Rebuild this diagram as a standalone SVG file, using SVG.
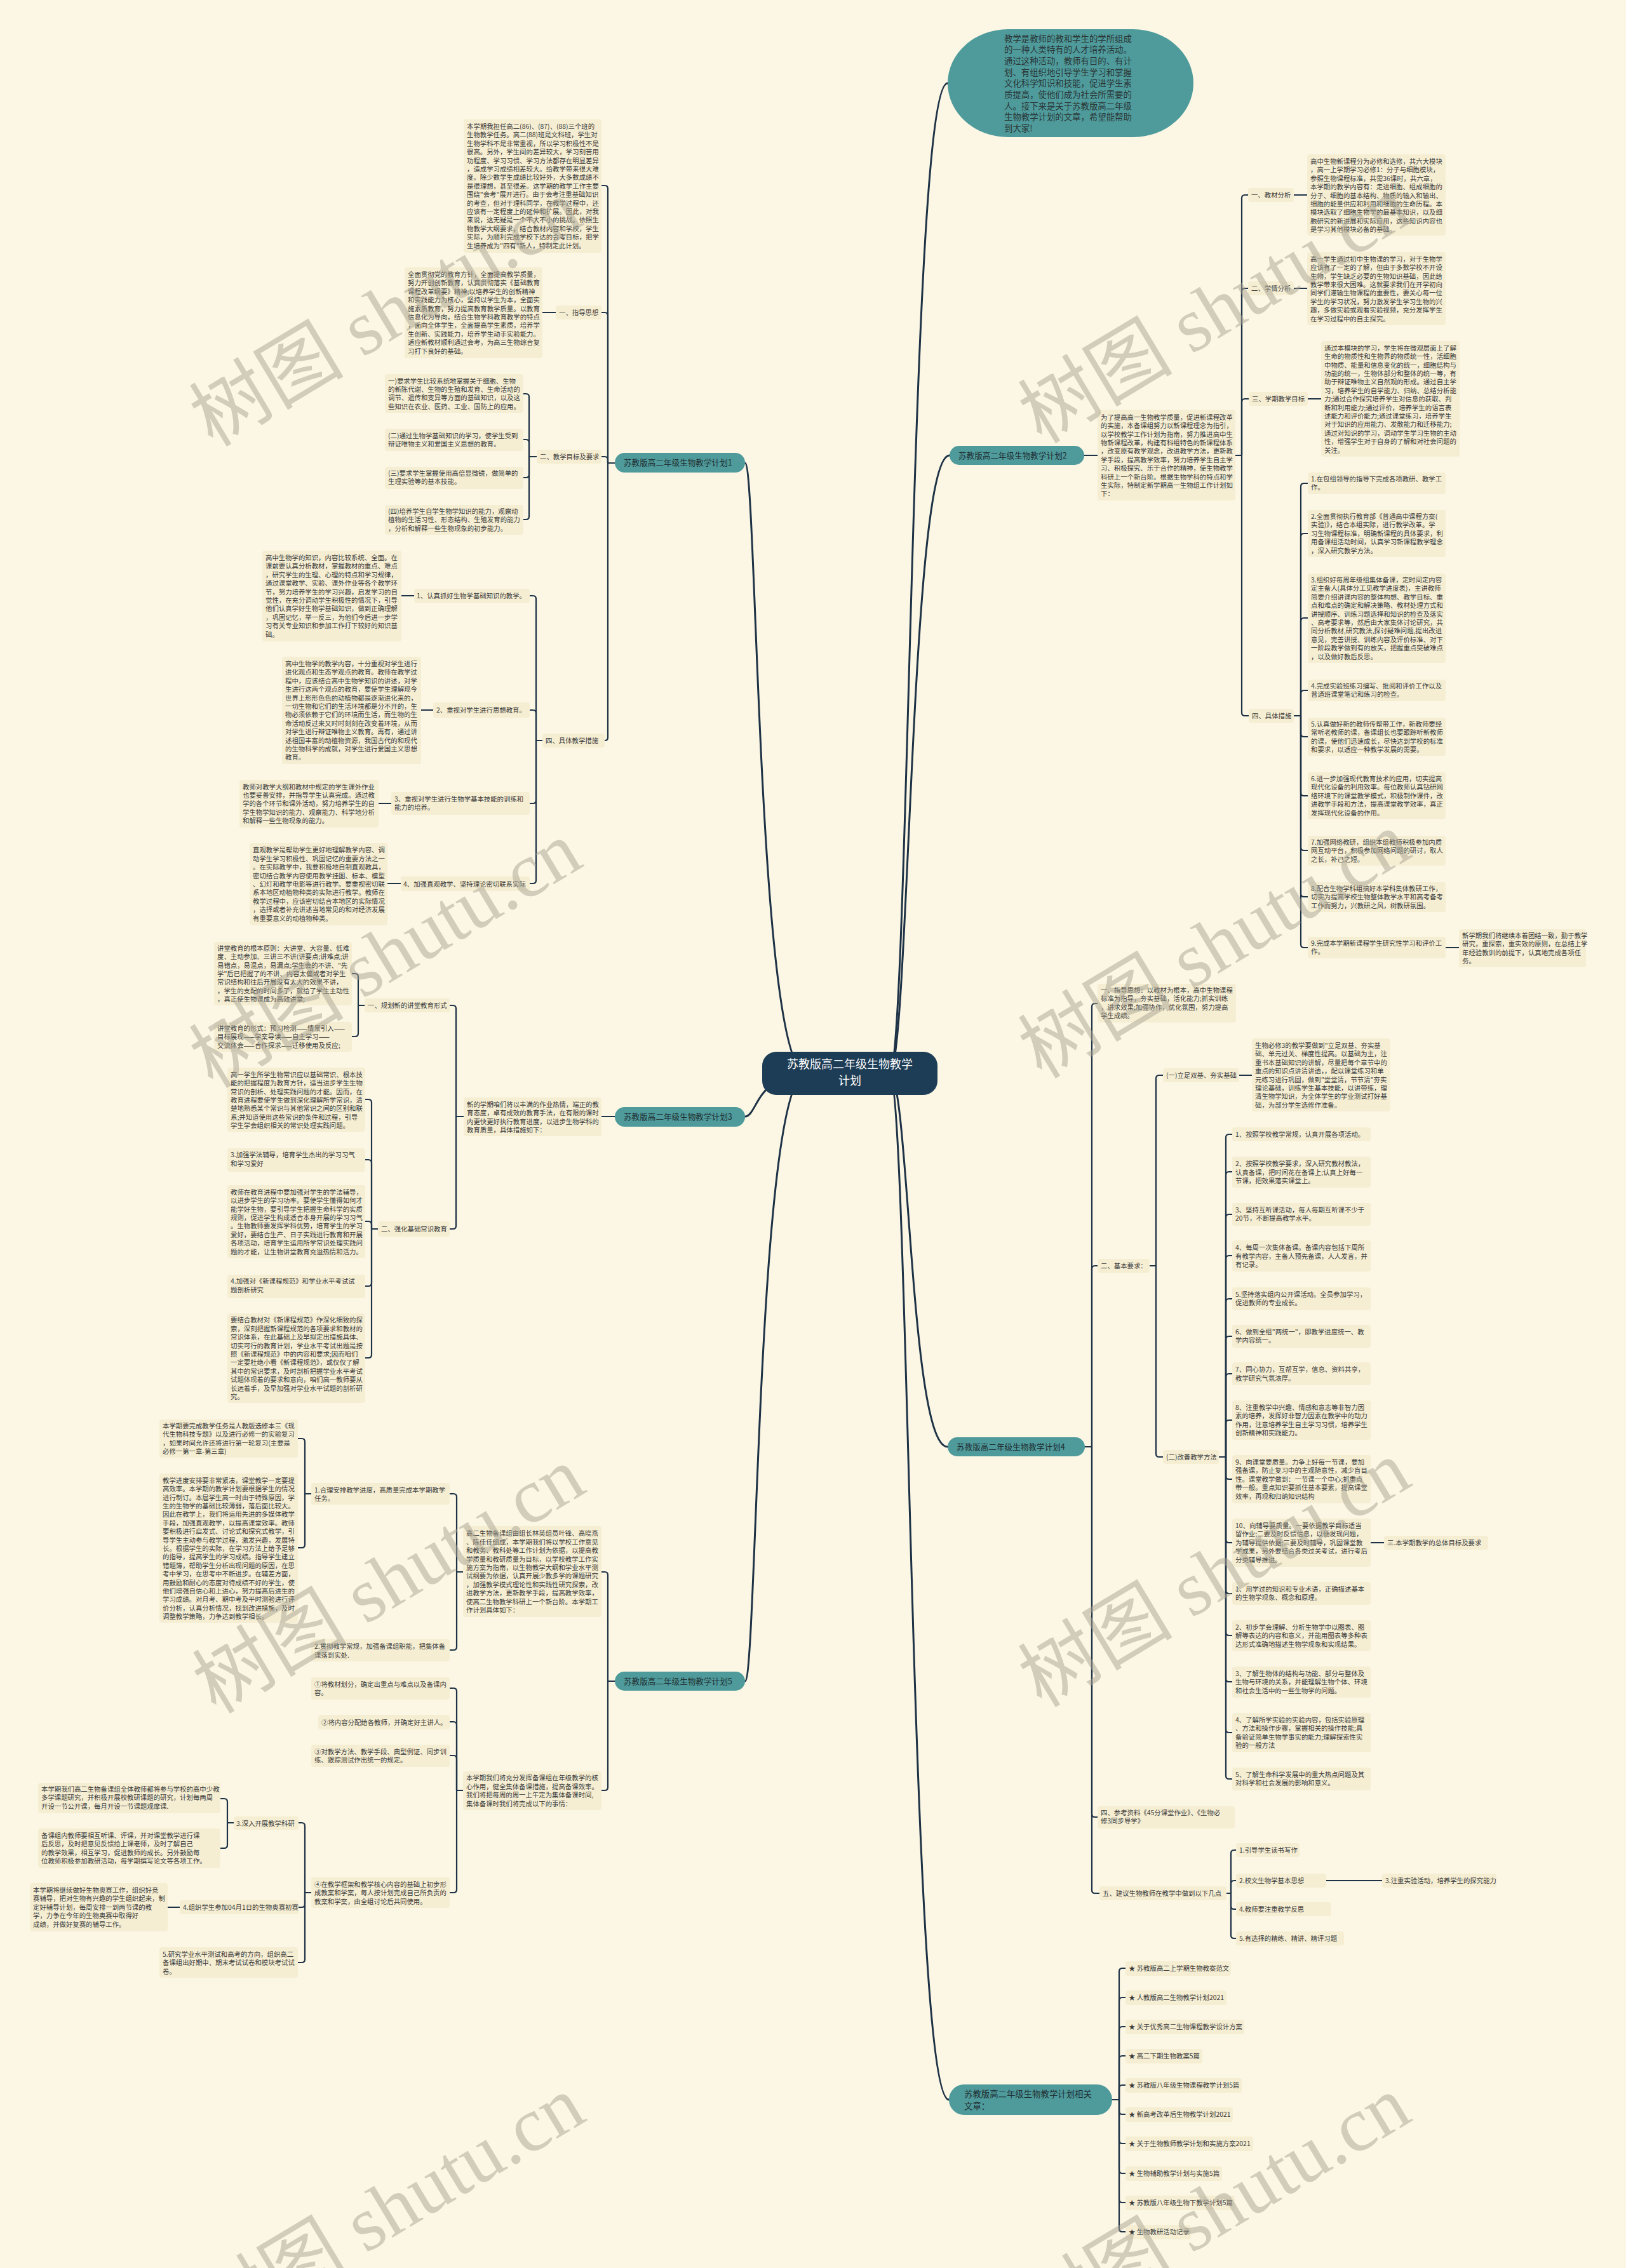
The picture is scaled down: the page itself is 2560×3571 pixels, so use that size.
<svg xmlns="http://www.w3.org/2000/svg" width="2560" height="3571" viewBox="0 0 2560 3571">
<style>
.bg{fill:#fcf7e4}
.b{fill:#f5eed3}
.t{font-family:"Noto Sans CJK SC","Noto Sans",sans-serif;font-size:10.4px;fill:#3a3a3a}
.p{fill:#4f9b9c}
.pt{font-family:"Noto Sans CJK SC","Noto Sans",sans-serif;font-size:12.6px;fill:#1f2f33}
.e{fill:none;stroke:#1e3246;stroke-width:2.2;stroke-linecap:round;stroke-linejoin:round}
.m{fill:none;stroke:#1e3246;stroke-width:3;stroke-linecap:round}
.wm{font-family:"Liberation Serif","Noto Sans CJK SC",serif;font-size:122px;fill:#aaa594;opacity:.5}
</style>
<rect class="bg" x="0" y="0" width="2560" height="3571"/>

<g id="connectors">
<path class="m" d="M1400 1690 C1432 1690 1432 131 1492 131"/>
<path class="m" d="M1400 1690 C1432 1690 1432 717 1495 717"/>
<path class="m" d="M1400 1690 C1432 1690 1432 2278 1492 2278"/>
<path class="m" d="M1400 1690 C1432 1690 1432 3306 1494 3306"/>
<path class="m" d="M1270 1690 C1192 1690 1192 729 1173 729"/>
<path class="m" d="M1270 1690 C1192 1690 1192 1758 1173 1758"/>
<path class="m" d="M1270 1690 C1192 1690 1192 2647 1173 2647"/>
<!-- R2 -->
<path class="e" d="M1707 717 H1728"/>
<path class="e" d="M1945 717 H1955 V312 Q1955 307 1960 307 H1965"/>
<path class="e" d="M1945 717 H1955 V459 Q1955 454 1960 454 H1965"/>
<path class="e" d="M1945 717 H1955 V633 Q1955 628 1960 628 H1966"/>
<path class="e" d="M1945 717 H1955 V1122 Q1955 1127 1960 1127 H1966"/>
<path class="e" d="M2037 307 H2058 M2037 454 H2058 M2059 628 H2080"/>
<path class="e" d="M2037 1127 H2048 V766 Q2048 761 2053 761 H2059"/>
<path class="e" d="M2037 1127 H2048 V845 Q2048 840 2053 840 H2059"/>
<path class="e" d="M2037 1127 H2048 V978 Q2048 973 2053 973 H2059"/>
<path class="e" d="M2037 1127 H2048 V1092 Q2048 1087 2053 1087 H2059"/>
<path class="e" d="M2037 1127 H2048 V1155 Q2048 1160 2053 1160 H2059"/>
<path class="e" d="M2037 1127 H2048 V1248 Q2048 1253 2053 1253 H2059"/>
<path class="e" d="M2037 1127 H2048 V1334 Q2048 1339 2053 1339 H2059"/>
<path class="e" d="M2037 1127 H2048 V1407 Q2048 1412 2053 1412 H2059"/>
<path class="e" d="M2037 1127 H2048 V1487 Q2048 1492 2053 1492 H2059"/>
<path class="e" d="M2276 1492 H2297"/>
<!-- R4 -->
<path class="e" d="M1708 2278 H1719 V1585 Q1719 1580 1724 1580 H1728"/>
<path class="e" d="M1708 2278 H1719 V1998 Q1719 1993 1724 1993 H1728"/>
<path class="e" d="M1708 2278 H1719 V2856 Q1719 2861 1724 2861 H1728"/>
<path class="e" d="M1708 2278 H1719 V2976 Q1719 2981 1724 2981 H1731"/>
<path class="e" d="M1810 1993 H1820 V1698 Q1820 1693 1825 1693 H1831"/>
<path class="e" d="M1810 1993 H1820 V2289 Q1820 2294 1825 2294 H1831"/>
<path class="e" d="M1951 1693 H1971"/>
<path class="e" d="M1919 2294 H1930 V1791 Q1930 1786 1935 1786 H1940"/>
<path class="e" d="M1919 2294 H1930 V1850 Q1930 1845 1935 1845 H1940"/>
<path class="e" d="M1919 2294 H1930 V1917 Q1930 1912 1935 1912 H1940"/>
<path class="e" d="M1919 2294 H1930 V1982 Q1930 1977 1935 1977 H1940"/>
<path class="e" d="M1919 2294 H1930 V2050 Q1930 2045 1935 2045 H1940"/>
<path class="e" d="M1919 2294 H1930 V2109 Q1930 2104 1935 2104 H1940"/>
<path class="e" d="M1919 2294 H1930 V2168 Q1930 2163 1935 2163 H1940"/>
<path class="e" d="M1919 2294 H1930 V2241 Q1930 2236 1935 2236 H1940"/>
<path class="e" d="M1919 2294 H1930 V2324 Q1930 2329 1935 2329 H1940"/>
<path class="e" d="M1919 2294 H1930 V2424 Q1930 2429 1935 2429 H1940"/>
<path class="e" d="M1919 2294 H1930 V2504 Q1930 2509 1935 2509 H1940"/>
<path class="e" d="M1919 2294 H1930 V2570 Q1930 2575 1935 2575 H1940"/>
<path class="e" d="M1919 2294 H1930 V2643 Q1930 2648 1935 2648 H1940"/>
<path class="e" d="M1919 2294 H1930 V2723 Q1930 2728 1935 2728 H1940"/>
<path class="e" d="M1919 2294 H1930 V2796 Q1930 2801 1935 2801 H1940"/>
<path class="e" d="M2158 2429 H2179"/>
<path class="e" d="M1931 2981 H1938 V2918 Q1938 2913 1943 2913 H1946"/>
<path class="e" d="M1931 2981 H1938 V2966 Q1938 2961 1943 2961 H1946"/>
<path class="e" d="M1931 2981 H1938 V3001 Q1938 3006 1943 3006 H1946"/>
<path class="e" d="M1931 2981 H1938 V3047 Q1938 3052 1943 3052 H1946"/>
<path class="e" d="M2088 2961 H2176"/>
<!-- R6 -->
<path class="e" d="M1751 3306 H1762 V3104 Q1762 3099 1767 3099 H1772"/>
<path class="e" d="M1751 3306 H1762 V3150 Q1762 3145 1767 3145 H1772"/>
<path class="e" d="M1751 3306 H1762 V3196 Q1762 3191 1767 3191 H1772"/>
<path class="e" d="M1751 3306 H1762 V3242 Q1762 3237 1767 3237 H1772"/>
<path class="e" d="M1751 3306 H1762 V3288 Q1762 3283 1767 3283 H1772"/>
<path class="e" d="M1751 3306 H1762 V3324 Q1762 3329 1767 3329 H1772"/>
<path class="e" d="M1751 3306 H1762 V3370 Q1762 3375 1767 3375 H1772"/>
<path class="e" d="M1751 3306 H1762 V3417 Q1762 3422 1767 3422 H1772"/>
<path class="e" d="M1751 3306 H1762 V3463 Q1762 3468 1767 3468 H1772"/>
<path class="e" d="M1751 3306 H1762 V3509 Q1762 3514 1767 3514 H1772"/>
<!-- L1 -->
<path class="e" d="M968 729 H957 V297 Q957 292 952 292 H947"/>
<path class="e" d="M968 729 H957 V497 Q957 492 952 492 H947"/>
<path class="e" d="M968 729 H957 V724 Q957 719 952 719 H947"/>
<path class="e" d="M968 729 H957 V1161 Q957 1166 952 1166"/>
<path class="e" d="M875 492 H854"/>
<path class="e" d="M845 719 H833 V625 Q833 620 828 620 H824"/>
<path class="e" d="M845 719 H833 V697 Q833 692 828 692 H824"/>
<path class="e" d="M845 719 H833 V747 Q833 752 828 752 H824"/>
<path class="e" d="M845 719 H833 V813 Q833 818 828 818 H824"/>
<path class="e" d="M854 1166 H844 V943 Q844 938 839 938 H834"/>
<path class="e" d="M854 1166 H844 V1123 Q844 1118 839 1118 H834"/>
<path class="e" d="M854 1166 H844 V1260 Q844 1265 839 1265 H834"/>
<path class="e" d="M854 1166 H844 V1386 Q844 1391 839 1391 H834"/>
<path class="e" d="M652 938 H632 M682 1118 H663 M616 1265 H596 M631 1391 H610"/>
<!-- L3 -->
<path class="e" d="M968 1758 H947"/>
<path class="e" d="M730 1758 H718 V1588 Q718 1583 713 1583 H708"/>
<path class="e" d="M730 1758 H718 V1930 Q718 1935 713 1935 H708"/>
<path class="e" d="M574 1583 H564 V1538 Q564 1533 559 1533 H554"/>
<path class="e" d="M574 1583 H564 V1627 Q564 1632 559 1632 H554"/>
<path class="e" d="M595 1935 H585 V1736 Q585 1731 580 1731 H575"/>
<path class="e" d="M595 1935 H585 V1831 Q585 1826 580 1826 H575"/>
<path class="e" d="M595 1935 H585 V1928 Q585 1923 580 1923 H575"/>
<path class="e" d="M595 1935 H585 V2020 Q585 2025 580 2025 H575"/>
<path class="e" d="M595 1935 H585 V2133 Q585 2138 580 2138 H575"/>
<!-- L5 -->
<path class="e" d="M968 2647 H957 V2480 Q957 2475 952 2475 H947"/>
<path class="e" d="M968 2647 H957 V2814 Q957 2819 952 2819 H947"/>
<path class="e" d="M729 2475 H719 V2357 Q719 2352 714 2352 H708"/>
<path class="e" d="M729 2475 H719 V2593 Q719 2598 714 2598 H708"/>
<path class="e" d="M490 2352 H480 V2270 Q480 2265 475 2265 H469"/>
<path class="e" d="M490 2352 H480 V2432 Q480 2437 475 2437 H469"/>
<path class="e" d="M729 2819 H719 V2663 Q719 2658 714 2658 H708"/>
<path class="e" d="M729 2819 H719 V2716 Q719 2711 714 2711 H708"/>
<path class="e" d="M729 2819 H719 V2769 Q719 2764 714 2764 H708"/>
<path class="e" d="M729 2819 H719 V2975 Q719 2980 714 2980 H708"/>
<path class="e" d="M490 2980 H480 V2875 Q480 2870 475 2870 H470"/>
<path class="e" d="M490 2980 H480 V2998 Q480 3003 475 3003 H470"/>
<path class="e" d="M490 2980 H480 V3085 Q480 3090 475 3090 H469"/>
<path class="e" d="M368 2870 H358 V2837 Q358 2832 353 2832 H347"/>
<path class="e" d="M368 2870 H358 V2905 Q358 2910 353 2910 H347"/>
<path class="e" d="M283 3003 H264"/>
</g>

<g id="center">
<rect x="1200" y="1656" width="276" height="68" rx="22" fill="#1d3d56"/>
<text x="1338" y="1682" text-anchor="middle" font-family="Noto Sans CJK SC, sans-serif" font-size="18" fill="#ffffff">苏教版高二年级生物教学</text>
<text x="1338" y="1708" text-anchor="middle" font-family="Noto Sans CJK SC, sans-serif" font-size="18" fill="#ffffff">计划</text>
</g>

<g id="intro">
<rect class="p" x="1492" y="46" width="387" height="170" rx="95" ry="85"/>
<text font-family="Noto Sans CJK SC, sans-serif" font-size="13.4" fill="#2a3636"><tspan x="1581" y="65.5">教学是教师的教和学生的学所组成</tspan><tspan x="1581" dy="17.7">的一种人类特有的人才培养活动。</tspan><tspan x="1581" dy="17.7">通过这种活动，教师有目的、有计</tspan><tspan x="1581" dy="17.7">划、有组织地引导学生学习和掌握</tspan><tspan x="1581" dy="17.7">文化科学知识和技能，促进学生素</tspan><tspan x="1581" dy="17.7">质提高，使他们成为社会所需要的</tspan><tspan x="1581" dy="17.7">人。接下来是关于苏教版高二年级</tspan><tspan x="1581" dy="17.7">生物教学计划的文章，希望能帮助</tspan><tspan x="1581" dy="17.7">到大家!</tspan></text>
</g>

<!-- ===== R2 ===== -->
<g id="r2">
<rect class="p" x="1495" y="702" width="212" height="30" rx="15"/>
<text class="pt" x="1509" y="721.5">苏教版高二年级生物教学计划2</text>
</g>
<g id="r2-intro">
<rect class="b" x="1728" y="645" width="217" height="143" rx="4"/>
<text class="t"><tspan x="1733" y="660.7">为了提高高一生物教学质量，促进新课程改革</tspan><tspan x="1733" dy="13.4">的实施，本备课组努力以新课程理念为指引，</tspan><tspan x="1733" dy="13.4">以学校教学工作计划为指南，努力推进高中生</tspan><tspan x="1733" dy="13.4">物新课程改革，构建有科组特色的新课程体系</tspan><tspan x="1733" dy="13.4">，改变原有教学观念，改进教学方法，更新教</tspan><tspan x="1733" dy="13.4">学手段，提高教学效率，努力培养学生自主学</tspan><tspan x="1733" dy="13.4">习、积极探究、乐于合作的精神，使生物教学</tspan><tspan x="1733" dy="13.4">科研上一个新台阶。根据生物学科的特点和学</tspan><tspan x="1733" dy="13.4">生实际，特制定新学期高一生物组工作计划如</tspan><tspan x="1733" dy="13.4">下：</tspan></text>
</g>
<g id="r2-1"><rect class="b" x="1965" y="296" width="72" height="22" rx="4"/><text class="t" x="1970" y="311">一、教材分析</text></g>
<g id="r2-1t">
<rect class="b" x="2058" y="243" width="218" height="128" rx="4"/>
<text class="t"><tspan x="2063" y="258">高中生物新课程分为必修和选修，共六大模块</tspan><tspan x="2063" dy="13.4">，高一上学期学习必修1：分子与细胞模块，</tspan><tspan x="2063" dy="13.4">参照生物课程标准，共需36课时，共六章，</tspan><tspan x="2063" dy="13.4">本学期的教学内容有：走进细胞、组成细胞的</tspan><tspan x="2063" dy="13.4">分子、细胞的基本结构、物质的输入和输出、</tspan><tspan x="2063" dy="13.4">细胞的能量供应和利用和细胞的生命历程。本</tspan><tspan x="2063" dy="13.4">模块选取了细胞生物学的最基本知识，以及细</tspan><tspan x="2063" dy="13.4">胞研究的新进展和实际应用，这些知识内容也</tspan><tspan x="2063" dy="13.4">是学习其他模块必备的基础。</tspan></text>
</g>
<g id="r2-2"><rect class="b" x="1965" y="443" width="72" height="22" rx="4"/><text class="t" x="1970" y="458">二、学情分析</text></g>
<g id="r2-2t">
<rect class="b" x="2058" y="397" width="218" height="115" rx="4"/>
<text class="t"><tspan x="2063" y="411.7">高一学生通过初中生物课的学习，对于生物学</tspan><tspan x="2063" dy="13.4">应该有了一定的了解，但由于多数学校不开设</tspan><tspan x="2063" dy="13.4">生物，学生缺乏必要的生物知识基础，因此给</tspan><tspan x="2063" dy="13.4">教学带来很大困难。这就要求我们在开学初向</tspan><tspan x="2063" dy="13.4">同学们灌输生物课程的重要性，要关心每一位</tspan><tspan x="2063" dy="13.4">学生的学习状况，努力激发学生学习生物的兴</tspan><tspan x="2063" dy="13.4">趣，多做实验或观看实验视频，充分发挥学生</tspan><tspan x="2063" dy="13.4">在学习过程中的自主探究。</tspan></text>
</g>
<g id="r2-3"><rect class="b" x="1966" y="617" width="93" height="22" rx="4"/><text class="t" x="1971" y="632">三、学期教学目标</text></g>
<g id="r2-3t">
<rect class="b" x="2080" y="537" width="218" height="182" rx="4"/>
<text class="t"><tspan x="2085" y="551.7">通过本模块的学习，学生将在微观层面上了解</tspan><tspan x="2085" dy="13.4">生命的物质性和生物界的物质统一性，活细胞</tspan><tspan x="2085" dy="13.4">中物质、能量和信息变化的统一，细胞结构与</tspan><tspan x="2085" dy="13.4">功能的统一，生物体部分和整体的统一等，有</tspan><tspan x="2085" dy="13.4">助于辩证唯物主义自然观的形成。通过自主学</tspan><tspan x="2085" dy="13.4">习，培养学生的自学能力、归纳、总结分析能</tspan><tspan x="2085" dy="13.4">力;通过合作探究培养学生对信息的获取、判</tspan><tspan x="2085" dy="13.4">断和利用能力;通过评价，培养学生的语言表</tspan><tspan x="2085" dy="13.4">述能力和评价能力;通过课堂练习，培养学生</tspan><tspan x="2085" dy="13.4">对于知识的应用能力、发散能力和迁移能力;</tspan><tspan x="2085" dy="13.4">通过对知识的学习，调动学生学习生物的主动</tspan><tspan x="2085" dy="13.4">性，增强学生对于自身的了解和对社会问题的</tspan><tspan x="2085" dy="13.4">关注。</tspan></text>
</g>
<g id="r2-4"><rect class="b" x="1966" y="1116" width="71" height="22" rx="4"/><text class="t" x="1971" y="1131">四、具体措施</text></g>
<g id="r2-4-1"><rect class="b" x="2059" y="744" width="217" height="34" rx="4"/><text class="t"><tspan x="2064" y="758">1.在包组领导的指导下完成各项教研、教学工</tspan><tspan x="2064" dy="13.4">作。</tspan></text></g>
<g id="r2-4-2"><rect class="b" x="2059" y="803" width="217" height="74" rx="4"/><text class="t"><tspan x="2064" y="817">2.全面贯彻执行教育部《普通高中课程方案(</tspan><tspan x="2064" dy="13.4">实验)》，结合本组实际，进行教学改革。学</tspan><tspan x="2064" dy="13.4">习生物课程标准，明确新课程的具体要求，利</tspan><tspan x="2064" dy="13.4">用备课组活动时间，认真学习新课程教学理念</tspan><tspan x="2064" dy="13.4">，深入研究教学方法。</tspan></text></g>
<g id="r2-4-3"><rect class="b" x="2059" y="903" width="217" height="141" rx="4"/><text class="t"><tspan x="2064" y="917">3.组织好每周年级组集体备课，定时间定内容</tspan><tspan x="2064" dy="13.4">定主备人(具体分工见教学进度表)，主讲教师</tspan><tspan x="2064" dy="13.4">简要介绍讲课内容的整体构想、教学目标、重</tspan><tspan x="2064" dy="13.4">点和难点的确定和解决策略、教材处理方式和</tspan><tspan x="2064" dy="13.4">讲授顺序、训练习题选择和知识的检查及落实</tspan><tspan x="2064" dy="13.4">、高考要求等，然后由大家集体讨论研究，共</tspan><tspan x="2064" dy="13.4">同分析教材,研究教法,探讨疑难问题,提出改进</tspan><tspan x="2064" dy="13.4">意见，完善讲授、训练内容及评价标准、对下</tspan><tspan x="2064" dy="13.4">一阶段教学做到有的放矢，把握重点突破难点</tspan><tspan x="2064" dy="13.4">，以及做好教后反思。</tspan></text></g>
<g id="r2-4-4"><rect class="b" x="2059" y="1070" width="217" height="34" rx="4"/><text class="t"><tspan x="2064" y="1084">4.完成实验班练习编写、批阅和评价工作以及</tspan><tspan x="2064" dy="13.4">普通班课堂笔记和练习的检查。</tspan></text></g>
<g id="r2-4-5"><rect class="b" x="2059" y="1130" width="217" height="60" rx="4"/><text class="t"><tspan x="2064" y="1144">5.认真做好新的教师传帮带工作，新教师要经</tspan><tspan x="2064" dy="13.4">常听老教师的课，备课组长也要跟踪听新教师</tspan><tspan x="2064" dy="13.4">的课，使他们迅速成长，尽快达到学校的标准</tspan><tspan x="2064" dy="13.4">和要求，以适应一种教学发展的需要。</tspan></text></g>
<g id="r2-4-6"><rect class="b" x="2059" y="1216" width="217" height="74" rx="4"/><text class="t"><tspan x="2064" y="1230">6.进一步加强现代教育技术的应用，切实提高</tspan><tspan x="2064" dy="13.4">现代化设备的利用效率。每位教师认真钻研网</tspan><tspan x="2064" dy="13.4">络环境下的课堂教学模式，积极制作课件，改</tspan><tspan x="2064" dy="13.4">进教学手段和方法，提高课堂教学效率，真正</tspan><tspan x="2064" dy="13.4">发挥现代化设备的作用。</tspan></text></g>
<g id="r2-4-7"><rect class="b" x="2059" y="1316" width="217" height="47" rx="4"/><text class="t"><tspan x="2064" y="1330">7.加强网络教研，组织本组教师积极参加内质</tspan><tspan x="2064" dy="13.4">网互动平台，积极参加网络问题的研讨，取人</tspan><tspan x="2064" dy="13.4">之长，补己之短。</tspan></text></g>
<g id="r2-4-8"><rect class="b" x="2059" y="1389" width="217" height="47" rx="4"/><text class="t"><tspan x="2064" y="1403">8.配合生物学科组搞好本学科集体教研工作，</tspan><tspan x="2064" dy="13.4">切实为提高学校生物整体教学水平和高考备考</tspan><tspan x="2064" dy="13.4">工作而努力，兴教研之风，树教研氛围。</tspan></text></g>
<g id="r2-4-9"><rect class="b" x="2059" y="1475" width="217" height="34" rx="4"/><text class="t"><tspan x="2064" y="1489">9.完成本学期新课程学生研究性学习和评价工</tspan><tspan x="2064" dy="13.4">作。</tspan></text></g>
<g id="r2-4-9c"><rect class="b" x="2297" y="1463" width="200" height="60" rx="4"/><text class="t"><tspan x="2302" y="1477">新学期我们将继续本着团结一致，勤于教学</tspan><tspan x="2302" dy="13.4">研究，重探索，重实效的原则，在总结上学</tspan><tspan x="2302" dy="13.4">年经验教训的前提下，认真地完成各项任</tspan><tspan x="2302" dy="13.4">务。</tspan></text></g>

<!-- ===== R4 ===== -->
<g id="r4"><rect class="p" x="1492" y="2263" width="216" height="30" rx="15"/><text class="pt" x="1506" y="2282.5">苏教版高二年级生物教学计划4</text></g>
<g id="r4-1"><rect class="b" x="1728" y="1549" width="218" height="61" rx="4"/><text class="t"><tspan x="1733" y="1563">一、指导思想：以教材为根本，高中生物课程</tspan><tspan x="1733" dy="13.4">标准为指导，夯实基础，活化能力;抓实训练</tspan><tspan x="1733" dy="13.4">，讲求效果;加强协作，优化氛围，努力提高</tspan><tspan x="1733" dy="13.4">学生成绩。</tspan></text></g>
<g id="r4-2"><rect class="b" x="1728" y="1982" width="82" height="22" rx="4"/><text class="t" x="1733" y="1997">二、基本要求：</text></g>
<g id="r4-2-1"><rect class="b" x="1831" y="1682" width="120" height="22" rx="4"/><text class="t" x="1836" y="1697">(一)立足双基、夯实基础</text></g>
<g id="r4-2-1t"><rect class="b" x="1971" y="1635" width="218" height="115" rx="4"/><text class="t"><tspan x="1976" y="1650">生物必修3的教学要做到"立足双基、夯实基</tspan><tspan x="1976" dy="13.4">础、单元过关、梯度性提高。以基础为主，注</tspan><tspan x="1976" dy="13.4">重书本基础知识的讲解，尽量把每个章节中的</tspan><tspan x="1976" dy="13.4">重点的知识点讲清讲透，，配以课堂练习和单</tspan><tspan x="1976" dy="13.4">元练习进行巩固，做到"堂堂清，节节清"夯实</tspan><tspan x="1976" dy="13.4">理论基础，训练学生基本技能，以讲带练，理</tspan><tspan x="1976" dy="13.4">清生物学知识，为全体学生的学业测试打好基</tspan><tspan x="1976" dy="13.4">础，为部分学生选修作准备。</tspan></text></g>
<g id="r4-2-2"><rect class="b" x="1831" y="2283" width="88" height="22" rx="4"/><text class="t" x="1836" y="2298">(二)改善教学方法</text></g>
<g id="r4-i1"><rect class="b" x="1940" y="1775" width="218" height="22" rx="4"/><text class="t" x="1945" y="1790">1、按照学校教学常规，认真开展各项活动。</text></g>
<g id="r4-i2"><rect class="b" x="1940" y="1821" width="218" height="49" rx="4"/><text class="t"><tspan x="1945" y="1836.3">2、按照学校教学要求，深入研究教材教法，</tspan><tspan x="1945" dy="13.4">认真备课，把时间花在备课上;认真上好每一</tspan><tspan x="1945" dy="13.4">节课，把效果落实课堂上。</tspan></text></g>
<g id="r4-i3"><rect class="b" x="1940" y="1894" width="218" height="36" rx="4"/><text class="t"><tspan x="1945" y="1909">3、坚持互听课活动，每人每期互听课不少于</tspan><tspan x="1945" dy="13.4">20节，不断提高教学水平。</tspan></text></g>
<g id="r4-i4"><rect class="b" x="1940" y="1953" width="218" height="49" rx="4"/><text class="t"><tspan x="1945" y="1968.3">4、每周一次集体备课。备课内容包括下周所</tspan><tspan x="1945" dy="13.4">有教学内容，主备人预先备课，人人发言，并</tspan><tspan x="1945" dy="13.4">有记录。</tspan></text></g>
<g id="r4-i5"><rect class="b" x="1940" y="2027" width="218" height="36" rx="4"/><text class="t"><tspan x="1945" y="2041.7">5.坚持落实组内公开课活动。全员参加学习，</tspan><tspan x="1945" dy="13.4">促进教师的专业成长。</tspan></text></g>
<g id="r4-i6"><rect class="b" x="1940" y="2086" width="218" height="36" rx="4"/><text class="t"><tspan x="1945" y="2100.7">6、做到全组"两统一"，即教学进度统一、教</tspan><tspan x="1945" dy="13.4">学内容统一。</tspan></text></g>
<g id="r4-i7"><rect class="b" x="1940" y="2145" width="218" height="36" rx="4"/><text class="t"><tspan x="1945" y="2160.3">7、同心协力，互帮互学，信息、资料共享，</tspan><tspan x="1945" dy="13.4">教学研究气氛浓厚。</tspan></text></g>
<g id="r4-i8"><rect class="b" x="1940" y="2205" width="218" height="62" rx="4"/><text class="t"><tspan x="1945" y="2220">8、注重教学中兴趣、情感和意志等非智力因</tspan><tspan x="1945" dy="13.4">素的培养，发挥好非智力因素在教学中的动力</tspan><tspan x="1945" dy="13.4">作用，注意培养学生自主学习习惯，培养学生</tspan><tspan x="1945" dy="13.4">创新精神和实践能力。</tspan></text></g>
<g id="r4-i9"><rect class="b" x="1940" y="2291" width="218" height="76" rx="4"/><text class="t"><tspan x="1945" y="2306">9、向课堂要质量。力争上好每一节课，要加</tspan><tspan x="1945" dy="13.4">强备课，防止复习中的主观随意性，减少盲目</tspan><tspan x="1945" dy="13.4">性。课堂教学做到：一节课一个中心;抓重点</tspan><tspan x="1945" dy="13.4">带一般。重点知识要抓住基本要素，提高课堂</tspan><tspan x="1945" dy="13.4">效率，再现和归纳知识结构</tspan></text></g>
<g id="r4-i10"><rect class="b" x="1940" y="2391" width="218" height="76" rx="4"/><text class="t"><tspan x="1945" y="2406">10、向辅导要质量。一要依据教学目标适当</tspan><tspan x="1945" dy="13.4">留作业;二要及时反馈信息，以便发现问题，</tspan><tspan x="1945" dy="13.4">为辅导提供依据;三要及时辅导，巩固课堂教</tspan><tspan x="1945" dy="13.4">学成果，另外要结合各类过关考试，进行考后</tspan><tspan x="1945" dy="13.4">分类辅导推进。</tspan></text></g>
<g id="r4-i11"><rect class="b" x="1940" y="2491" width="218" height="36" rx="4"/><text class="t"><tspan x="1945" y="2506">1、用学过的知识和专业术语，正确描述基本</tspan><tspan x="1945" dy="13.4">的生物学现象、概念和原理。</tspan></text></g>
<g id="r4-i12"><rect class="b" x="1940" y="2551" width="218" height="49" rx="4"/><text class="t"><tspan x="1945" y="2566">2、初步学会理解、分析生物学中以图表、图</tspan><tspan x="1945" dy="13.4">解等表达的内容和意义，并能用图表等多种表</tspan><tspan x="1945" dy="13.4">达形式准确地描述生物学现象和实现结果。</tspan></text></g>
<g id="r4-i13"><rect class="b" x="1940" y="2624" width="218" height="49" rx="4"/><text class="t"><tspan x="1945" y="2639">3、了解生物体的结构与功能、部分与整体及</tspan><tspan x="1945" dy="13.4">生物与环境的关系，并能理解生物个体、环境</tspan><tspan x="1945" dy="13.4">和社会生活中的一些生物学的问题。</tspan></text></g>
<g id="r4-i14"><rect class="b" x="1940" y="2697" width="218" height="62" rx="4"/><text class="t"><tspan x="1945" y="2712">4、了解所学实验的实验内容，包括实验原理</tspan><tspan x="1945" dy="13.4">、方法和操作步骤，掌握相关的操作技能;具</tspan><tspan x="1945" dy="13.4">备验证简单生物学事实的能力;理解探索性实</tspan><tspan x="1945" dy="13.4">验的一般方法</tspan></text></g>
<g id="r4-i15"><rect class="b" x="1940" y="2783" width="218" height="36" rx="4"/><text class="t"><tspan x="1945" y="2798">5、了解生命科学发展中的重大热点问题及其</tspan><tspan x="1945" dy="13.4">对科学和社会发展的影响和意义。</tspan></text></g>
<g id="r4-3"><rect class="b" x="2179" y="2418" width="164" height="22" rx="4"/><text class="t" x="2184" y="2433">三.本学期教学的总体目标及要求</text></g>
<g id="r4-4"><rect class="b" x="1728" y="2844" width="216" height="35" rx="4"/><text class="t"><tspan x="1733" y="2858">四、参考资料《45分课堂作业》、《生物必</tspan><tspan x="1733" dy="13.4">修3同步导学》</tspan></text></g>
<g id="r4-5"><rect class="b" x="1731" y="2970" width="200" height="22" rx="4"/><text class="t" x="1736" y="2985">五、建议生物教师在教学中做到以下几点</text></g>
<g id="r4-5-1"><rect class="b" x="1946" y="2902" width="100" height="22" rx="4"/><text class="t" x="1951" y="2917">1.引导学生读书写作</text></g>
<g id="r4-5-2"><rect class="b" x="1946" y="2950" width="142" height="22" rx="4"/><text class="t" x="1951" y="2965">2.校文生物学基本思想</text></g>
<g id="r4-5-2c"><rect class="b" x="2176" y="2950" width="180" height="22" rx="4"/><text class="t" x="2181" y="2965">3.注重实验活动，培养学生的探究能力</text></g>
<g id="r4-5-4"><rect class="b" x="1946" y="2995" width="150" height="22" rx="4"/><text class="t" x="1951" y="3010">4.教师要注重教学反思</text></g>
<g id="r4-5-5"><rect class="b" x="1946" y="3041" width="170" height="22" rx="4"/><text class="t" x="1951" y="3056">5.有选择的精练、精讲、精评习题</text></g>

<!-- ===== R6 ===== -->
<g id="r6"><rect class="p" x="1494" y="3282" width="257" height="48" rx="24"/><text font-family="Noto Sans CJK SC, sans-serif" font-size="13.4" fill="#1f2f33"><tspan x="1518" y="3301.5">苏教版高二年级生物教学计划相关</tspan><tspan x="1518" dy="19.7">文章：</tspan></text></g>
<g id="r6-1"><rect class="b" x="1772" y="3088" width="166" height="23" rx="4"/><text class="t" x="1777" y="3103">★ 苏教版高二上学期生物教案范文</text></g>
<g id="r6-2"><rect class="b" x="1772" y="3134" width="159" height="23" rx="4"/><text class="t" x="1777" y="3149">★ 人教版高二生物教学计划2021</text></g>
<g id="r6-3"><rect class="b" x="1772" y="3180" width="187" height="23" rx="4"/><text class="t" x="1777" y="3195">★ 关于优秀高二生物课程教学设计方案</text></g>
<g id="r6-4"><rect class="b" x="1772" y="3226" width="121" height="23" rx="4"/><text class="t" x="1777" y="3241">★ 高二下期生物教案5篇</text></g>
<g id="r6-5"><rect class="b" x="1772" y="3272" width="183" height="23" rx="4"/><text class="t" x="1777" y="3287">★ 苏教版八年级生物课程教学计划5篇</text></g>
<g id="r6-6"><rect class="b" x="1772" y="3318" width="169" height="23" rx="4"/><text class="t" x="1777" y="3333">★ 新高考改革后生物教学计划2021</text></g>
<g id="r6-7"><rect class="b" x="1772" y="3364" width="201" height="23" rx="4"/><text class="t" x="1777" y="3379">★ 关于生物教师教学计划和实施方案2021</text></g>
<g id="r6-8"><rect class="b" x="1772" y="3411" width="152" height="23" rx="4"/><text class="t" x="1777" y="3426">★ 生物辅助教学计划与实施5篇</text></g>
<g id="r6-9"><rect class="b" x="1772" y="3457" width="172" height="23" rx="4"/><text class="t" x="1777" y="3472">★ 苏教版八年级生物下教学计划5篇</text></g>
<g id="r6-10"><rect class="b" x="1772" y="3503" width="103" height="23" rx="4"/><text class="t" x="1777" y="3518">★ 生物教研活动记录</text></g>

<!-- ===== L1 ===== -->
<g id="l1"><rect class="p" x="968" y="713" width="205" height="31" rx="15.5"/><text class="pt" x="982" y="733">苏教版高二年级生物教学计划1</text></g>
<g id="l1-a"><rect class="b" x="730" y="188" width="217" height="210" rx="4"/><text class="t"><tspan x="735" y="203">本学期我担任高二(86)、(87)、(88)三个班的</tspan><tspan x="735" dy="13.4">生物教学任务。高二(88)班是文科班，学生对</tspan><tspan x="735" dy="13.4">生物学科不是非常重视，所以学习积极性不是</tspan><tspan x="735" dy="13.4">很高。另外，学生间的差异较大，学习刻苦用</tspan><tspan x="735" dy="13.4">功程度、学习习惯、学习方法都存在明显差异</tspan><tspan x="735" dy="13.4">，造成学习成绩相差较大。给教学带来很大难</tspan><tspan x="735" dy="13.4">度。除少数学生成绩比较好外，大多数成绩不</tspan><tspan x="735" dy="13.4">是很理想，甚至很差。这学期的教学工作主要</tspan><tspan x="735" dy="13.4">围绕"会考"展开进行。由于会考注重基础知识</tspan><tspan x="735" dy="13.4">的考查，但对于理科同学，在教学过程中，还</tspan><tspan x="735" dy="13.4">应该有一定程度上的延伸和扩展。因此，对我</tspan><tspan x="735" dy="13.4">来说，这无疑是一个不大不小的挑战。依照生</tspan><tspan x="735" dy="13.4">物教学大纲要求，结合教材内容和学校，学生</tspan><tspan x="735" dy="13.4">实际，为顺利完成学校下达的会考目标，把学</tspan><tspan x="735" dy="13.4">生培养成为"四有"新人，特制定此计划。</tspan></text></g>
<g id="l1-1"><rect class="b" x="875" y="481" width="72" height="22" rx="4"/><text class="t" x="880" y="496">一、指导思想</text></g>
<g id="l1-1t"><rect class="b" x="637" y="421" width="217" height="143" rx="4"/><text class="t"><tspan x="642" y="436">全面贯彻党的教育方针，全面提高教学质量，</tspan><tspan x="642" dy="13.4">努力开创创新教育，认真贯彻落实《基础教育</tspan><tspan x="642" dy="13.4">课程改革纲要》精神;以培养学生的创新精神</tspan><tspan x="642" dy="13.4">和实践能力为核心，坚持以学生为本，全面实</tspan><tspan x="642" dy="13.4">施素质教育，努力提高教育教学质量。以教育</tspan><tspan x="642" dy="13.4">信息化为导向，结合生物学科教育教学的特点</tspan><tspan x="642" dy="13.4">，面向全体学生，全面提高学生素质，培养学</tspan><tspan x="642" dy="13.4">生创新、实践能力，培养学生动手实验能力。</tspan><tspan x="642" dy="13.4">适应新教材顺利通过会考，为高三生物综合复</tspan><tspan x="642" dy="13.4">习打下良好的基础。</tspan></text></g>
<g id="l1-2"><rect class="b" x="845" y="708" width="102" height="22" rx="4"/><text class="t" x="850" y="723">二、教学目标及要求</text></g>
<g id="l1-2a"><rect class="b" x="606" y="589" width="218" height="61" rx="4"/><text class="t"><tspan x="611" y="603.5">一)要求学生比较系统地掌握关于细胞、生物</tspan><tspan x="611" dy="13.4">的新陈代谢、生物的生殖和发育、生命活动的</tspan><tspan x="611" dy="13.4">调节、遗传和变异等方面的基础知识，以及这</tspan><tspan x="611" dy="13.4">些知识在农业、医药、工业、国防上的应用。</tspan></text></g>
<g id="l1-2b"><rect class="b" x="606" y="675" width="218" height="35" rx="4"/><text class="t"><tspan x="611" y="689.6">(二)通过生物学基础知识的学习，使学生受到</tspan><tspan x="611" dy="13.4">辩证唯物主义和爱国主义思想的教育。</tspan></text></g>
<g id="l1-2c"><rect class="b" x="606" y="735" width="218" height="35" rx="4"/><text class="t"><tspan x="611" y="749">(三)要求学生掌握使用高倍显微镜，做简单的</tspan><tspan x="611" dy="13.4">生理实验等的基本技能。</tspan></text></g>
<g id="l1-2d"><rect class="b" x="606" y="795" width="218" height="47" rx="4"/><text class="t"><tspan x="611" y="809">(四)培养学生自学生物学知识的能力，观察动</tspan><tspan x="611" dy="13.4">植物的生活习性、形态结构、生殖发育的能力</tspan><tspan x="611" dy="13.4">，分析和解释一些生物现象的初步能力。</tspan></text></g>
<g id="l1-4"><rect class="b" x="854" y="1155" width="98" height="22" rx="4"/><text class="t" x="859" y="1170">四、具体教学措施</text></g>
<g id="l1-4-1"><rect class="b" x="652" y="927" width="182" height="22" rx="4"/><text class="t" x="656" y="942">1、认真抓好生物学基础知识的教学。</text></g>
<g id="l1-4-1t"><rect class="b" x="413" y="867" width="219" height="143" rx="4"/><text class="t"><tspan x="418" y="882">高中生物学的知识，内容比较系统、全面。在</tspan><tspan x="418" dy="13.4">课前要认真分析教材，掌握教材的重点、难点</tspan><tspan x="418" dy="13.4">，研究学生的生理、心理的特点和学习规律，</tspan><tspan x="418" dy="13.4">通过课堂教学、实验、课外作业等各个教学环</tspan><tspan x="418" dy="13.4">节，努力培养学生的学习兴趣，启发学习的自</tspan><tspan x="418" dy="13.4">觉性，在充分调动学生积极性的情况下，引导</tspan><tspan x="418" dy="13.4">他们认真学好生物学基础知识，做到正确理解</tspan><tspan x="418" dy="13.4">，巩固记忆，举一反三，为他们今后进一步学</tspan><tspan x="418" dy="13.4">习有关专业知识和参加工作打下较好的知识基</tspan><tspan x="418" dy="13.4">础。</tspan></text></g>
<g id="l1-4-2"><rect class="b" x="682" y="1106" width="152" height="24" rx="4"/><text class="t" x="687" y="1122">2、重视对学生进行思想教育。</text></g>
<g id="l1-4-2t"><rect class="b" x="444" y="1034" width="219" height="169" rx="4"/><text class="t"><tspan x="449" y="1049">高中生物学的教学内容，十分重视对学生进行</tspan><tspan x="449" dy="13.4">进化观点和生态学观点的教育。教师在教学过</tspan><tspan x="449" dy="13.4">程中，应该结合高中生物学知识的讲述，对学</tspan><tspan x="449" dy="13.4">生进行这两个观点的教育，要使学生理解现今</tspan><tspan x="449" dy="13.4">世界上形形色色的动植物都是逐渐进化来的，</tspan><tspan x="449" dy="13.4">一切生物和它们的生活环境都是分不开的，生</tspan><tspan x="449" dy="13.4">物必须依赖于它们的环境而生活，而生物的生</tspan><tspan x="449" dy="13.4">命活动反过来又时时刻刻在改变着环境，从而</tspan><tspan x="449" dy="13.4">对学生进行辩证唯物主义教育。再有，通过讲</tspan><tspan x="449" dy="13.4">述祖国丰富的动植物资源，我国古代的和现代</tspan><tspan x="449" dy="13.4">的生物科学的成就，对学生进行爱国主义思想</tspan><tspan x="449" dy="13.4">教育。</tspan></text></g>
<g id="l1-4-3"><rect class="b" x="616" y="1247" width="218" height="36" rx="4"/><text class="t"><tspan x="621" y="1262">3、重视对学生进行生物学基本技能的训练和</tspan><tspan x="621" dy="13.4">能力的培养。</tspan></text></g>
<g id="l1-4-3t"><rect class="b" x="377" y="1228" width="219" height="75" rx="4"/><text class="t"><tspan x="382" y="1242.6">教师对教学大纲和教材中规定的学生课外作业</tspan><tspan x="382" dy="13.4">也要妥善安排，并指导学生认真完成。通过教</tspan><tspan x="382" dy="13.4">学的各个环节和课外活动，努力培养学生的自</tspan><tspan x="382" dy="13.4">学生物学知识的能力、观察能力、科学地分析</tspan><tspan x="382" dy="13.4">和解释一些生物现象的能力。</tspan></text></g>
<g id="l1-4-4"><rect class="b" x="631" y="1380" width="203" height="23" rx="4"/><text class="t" x="635" y="1395.7">4、加强直观教学、坚持理论密切联系实际</text></g>
<g id="l1-4-4t"><rect class="b" x="393" y="1327" width="217" height="130" rx="4"/><text class="t"><tspan x="398" y="1342.3">直观教学是帮助学生更好地理解教学内容、调</tspan><tspan x="398" dy="13.4">动学生学习积极性、巩固记忆的重要方法之一</tspan><tspan x="398" dy="13.4">。在实际教学中，我要积极地自制直观教具，</tspan><tspan x="398" dy="13.4">密切结合教学内容使用教学挂图、标本、模型</tspan><tspan x="398" dy="13.4">、幻灯和教学电影等进行教学。要重视密切联</tspan><tspan x="398" dy="13.4">系本地区动植物种类的实际进行教学。教师在</tspan><tspan x="398" dy="13.4">教学过程中，应该密切结合本地区的实际情况</tspan><tspan x="398" dy="13.4">，选择或者补充讲述当地常见的和对经济发展</tspan><tspan x="398" dy="13.4">有重要意义的动植物种类。</tspan></text></g>

<!-- ===== L3 ===== -->
<g id="l3"><rect class="p" x="968" y="1743" width="205" height="31" rx="15.5"/><text class="pt" x="982" y="1763">苏教版高二年级生物教学计划3</text></g>
<g id="l3-a"><rect class="b" x="730" y="1728" width="217" height="61" rx="4"/><text class="t"><tspan x="735" y="1742.7">新的学期咱们将以丰满的作业热情，端正的教</tspan><tspan x="735" dy="13.4">育态度，卓有成效的教育手法，在有限的课时</tspan><tspan x="735" dy="13.4">内更快更好执行教育进度，以进步生物学科的</tspan><tspan x="735" dy="13.4">教育质量，具体措施如下：</tspan></text></g>
<g id="l3-1"><rect class="b" x="574" y="1572" width="134" height="22" rx="4"/><text class="t" x="579" y="1587">一、规划新的讲堂教育形式</text></g>
<g id="l3-1a"><rect class="b" x="337" y="1483" width="217" height="100" rx="4"/><text class="t"><tspan x="342" y="1496.7">讲堂教育的根本原则：大讲堂、大容量、低难</tspan><tspan x="342" dy="13.4">度、主动参加、三讲三不讲(讲要点;讲难点;讲</tspan><tspan x="342" dy="13.4">易错点，易混点，易漏点;学生会的不讲、"先</tspan><tspan x="342" dy="13.4">学"后已把握了的不讲、内容太偏或者对学生</tspan><tspan x="342" dy="13.4">常识结构和往后开展没有太大的效果不讲，</tspan><tspan x="342" dy="13.4">，学生的支配的时间多了，就给了学生主动性</tspan><tspan x="342" dy="13.4">，真正使生物课成为高效讲堂;</tspan></text></g>
<g id="l3-1b"><rect class="b" x="337" y="1609" width="217" height="47" rx="4"/><text class="t"><tspan x="342" y="1623">讲堂教育的形式：预习检测——情景引入——</tspan><tspan x="342" dy="13.4">目标展现——学案导读——自主学习——</tspan><tspan x="342" dy="13.4">交流体会——合作探求——迁移使用及反应;</tspan></text></g>
<g id="l3-2"><rect class="b" x="595" y="1923" width="113" height="24" rx="4"/><text class="t" x="600" y="1939">二、强化基础常识教育</text></g>
<g id="l3-2a"><rect class="b" x="358" y="1681" width="217" height="101" rx="4"/><text class="t"><tspan x="363" y="1695.7">高一学生所学生物常识应以基础常识、根本技</tspan><tspan x="363" dy="13.4">能的把握程度为教育方针，适当进步学生生物</tspan><tspan x="363" dy="13.4">常识的剖析、处理实践问题的才能。因而，在</tspan><tspan x="363" dy="13.4">教育进程要使学生做到深化理解所学常识，清</tspan><tspan x="363" dy="13.4">楚地熟悉某个常识与其他常识之间的区别和联</tspan><tspan x="363" dy="13.4">系;并知道使用这些常识的条件和过程，引导</tspan><tspan x="363" dy="13.4">学生学会组织相关的常识处理实践问题。</tspan></text></g>
<g id="l3-2b"><rect class="b" x="358" y="1808" width="217" height="37" rx="4"/><text class="t"><tspan x="363" y="1822.3">3.加强学法辅导，培育学生杰出的学习习气</tspan><tspan x="363" dy="13.4">和学习爱好</tspan></text></g>
<g id="l3-2c"><rect class="b" x="358" y="1866" width="217" height="115" rx="4"/><text class="t"><tspan x="363" y="1880.7">教师在教育进程中要加强对学生的学法辅导，</tspan><tspan x="363" dy="13.4">以进步学生的学习功率。要使学生懂得如何才</tspan><tspan x="363" dy="13.4">能学好生物，要引导学生把握生命科学的实质</tspan><tspan x="363" dy="13.4">规则，促进学生构成适合本身开展的学习习气</tspan><tspan x="363" dy="13.4">。生物教师要发挥学科优势，培育学生的学习</tspan><tspan x="363" dy="13.4">爱好，要结合生产、日子实践进行教育和开展</tspan><tspan x="363" dy="13.4">各项活动，培育学生运用所学常识处理实践问</tspan><tspan x="363" dy="13.4">题的才能，让生物讲堂教育充溢热情和活力。</tspan></text></g>
<g id="l3-2d"><rect class="b" x="358" y="2007" width="217" height="37" rx="4"/><text class="t"><tspan x="363" y="2021.3">4.加强对《新课程规范》和学业水平考试试</tspan><tspan x="363" dy="13.4">题剖析研究</tspan></text></g>
<g id="l3-2e"><rect class="b" x="358" y="2068" width="217" height="141" rx="4"/><text class="t"><tspan x="363" y="2082.3">要结合教材对《新课程规范》作深化细致的探</tspan><tspan x="363" dy="13.4">索，深刻把握新课程规范的各项要求和教材的</tspan><tspan x="363" dy="13.4">常识体系，在此基础上及早拟定出措施具体、</tspan><tspan x="363" dy="13.4">切实可行的教育计划，学业水平考试出题是按</tspan><tspan x="363" dy="13.4">照《新课程规范》中的内容和要求;因而咱们</tspan><tspan x="363" dy="13.4">一定要杜绝小看《新课程规范》，或仅仅了解</tspan><tspan x="363" dy="13.4">其中的常识要求，及时剖析把握学业水平考试</tspan><tspan x="363" dy="13.4">试题体现着的要求和意向，咱们高一教师要从</tspan><tspan x="363" dy="13.4">长远着手，及早加强对学业水平试题的剖析研</tspan><tspan x="363" dy="13.4">究。</tspan></text></g>

<!-- ===== L5 ===== -->
<g id="l5"><rect class="p" x="968" y="2632" width="205" height="30" rx="15"/><text class="pt" x="982" y="2651.5">苏教版高二年级生物教学计划5</text></g>
<g id="l5-a"><rect class="b" x="729" y="2403" width="218" height="143" rx="4"/><text class="t"><tspan x="734" y="2418.3">高二生物备课组由组长林英组员叶锋、高晓燕</tspan><tspan x="734" dy="13.4">、陈佳佳组成，本学期我们将以学校工作意见</tspan><tspan x="734" dy="13.4">和教务、教科处等工作计划为依据，以提高教</tspan><tspan x="734" dy="13.4">学质量和教研质量为目标，以学校教学工作实</tspan><tspan x="734" dy="13.4">施方案为指南，以生物教学大纲和学业水平测</tspan><tspan x="734" dy="13.4">试纲要为依据，认真开展少教多学的课题研究</tspan><tspan x="734" dy="13.4">，加强教学模式理论性和实践性研究探索，改</tspan><tspan x="734" dy="13.4">进教学方法，更新教学手段，提高教学效率，</tspan><tspan x="734" dy="13.4">使高二生物教学科研上一个新台阶。本学期工</tspan><tspan x="734" dy="13.4">作计划具体如下：</tspan></text></g>
<g id="l5-b"><rect class="b" x="729" y="2789" width="218" height="61" rx="4"/><text class="t"><tspan x="734" y="2803.3">本学期我们将充分发挥备课组在年级教学的核</tspan><tspan x="734" dy="13.4">心作用，健全集体备课措施，提高备课效率。</tspan><tspan x="734" dy="13.4">我们将把每周的周一上午定为集体备课时间,</tspan><tspan x="734" dy="13.4">集体备课时我们将完成以下的事情：</tspan></text></g>
<g id="l5-a1"><rect class="b" x="490" y="2335" width="218" height="34" rx="4"/><text class="t"><tspan x="495" y="2349.7">1.合理安排教学进度，高质量完成本学期教学</tspan><tspan x="495" dy="13.4">任务。</tspan></text></g>
<g id="l5-a1a"><rect class="b" x="251" y="2235" width="218" height="60" rx="4"/><text class="t"><tspan x="256" y="2249">本学期要完成教学任务是人教版选修本三《现</tspan><tspan x="256" dy="13.4">代生物科技专题》以及进行必修一的实验复习</tspan><tspan x="256" dy="13.4">，如果时间允许还将进行第一轮复习(主要是</tspan><tspan x="256" dy="13.4">必修一第一章-第三章)</tspan></text></g>
<g id="l5-a1b"><rect class="b" x="251" y="2320" width="218" height="235" rx="4"/><text class="t"><tspan x="256" y="2334.7">教学进度安排要非常紧凑，课堂教学一定要提</tspan><tspan x="256" dy="13.4">高效率。本学期的教学计划要根据学生的情况</tspan><tspan x="256" dy="13.4">进行制订。本届学生高一时由于特殊原因，学</tspan><tspan x="256" dy="13.4">生的生物学的基础比较薄弱，落后面比较大。</tspan><tspan x="256" dy="13.4">因此在教学上，我们将运用先进的多媒体教学</tspan><tspan x="256" dy="13.4">手段，加强直观教学，以提高课堂效率。教师</tspan><tspan x="256" dy="13.4">要积极进行启发式、讨论式和探究式教学，引</tspan><tspan x="256" dy="13.4">导学生主动参与教学过程，激发兴趣，发展特</tspan><tspan x="256" dy="13.4">长。根据学生的实际，在学习方法上给予足够</tspan><tspan x="256" dy="13.4">的指导，提高学生的学习成绩。指导学生建立</tspan><tspan x="256" dy="13.4">错题簿，帮助学生分析出现问题的原因，在思</tspan><tspan x="256" dy="13.4">考中学习，在思考中不断进步。在辅差方面，</tspan><tspan x="256" dy="13.4">用鼓励和耐心的态度对待成绩不好的学生，使</tspan><tspan x="256" dy="13.4">他们增强自信心和上进心，努力提高后进生的</tspan><tspan x="256" dy="13.4">学习成绩。对月考、期中考及平时测验进行评</tspan><tspan x="256" dy="13.4">价分析，认真分析情况，找到改进措施，及时</tspan><tspan x="256" dy="13.4">调整教学策略，力争达到教学相长。</tspan></text></g>
<g id="l5-a2"><rect class="b" x="490" y="2581" width="218" height="35" rx="4"/><text class="t"><tspan x="495" y="2596.3">2.贯彻教学常规，加强备课组职能，把集体备</tspan><tspan x="495" dy="13.4">课落到实处.</tspan></text></g>
<g id="l5-b1"><rect class="b" x="490" y="2641" width="218" height="35" rx="4"/><text class="t"><tspan x="495" y="2655.7">①将教材划分，确定出重点与难点以及备课内</tspan><tspan x="495" dy="13.4">容。</tspan></text></g>
<g id="l5-b2"><rect class="b" x="501" y="2700" width="207" height="23" rx="4"/><text class="t" x="506" y="2715.7">②将内容分配给各教师，并确定好主讲人。</text></g>
<g id="l5-b3"><rect class="b" x="490" y="2747" width="218" height="35" rx="4"/><text class="t"><tspan x="495" y="2761.7">③对教学方法、教学手段、典型例证、同步训</tspan><tspan x="495" dy="13.4">练、跟踪测试作出统一的规定。</tspan></text></g>
<g id="l5-b4"><rect class="b" x="490" y="2956" width="218" height="48" rx="4"/><text class="t"><tspan x="495" y="2970.7">④在教学框架和教学核心内容的基础上初步形</tspan><tspan x="495" dy="13.4">成教案和学案，每人按计划完成自己所负责的</tspan><tspan x="495" dy="13.4">教案和学案，由全组讨论后共同使用。</tspan></text></g>
<g id="l5-3"><rect class="b" x="368" y="2860" width="102" height="21" rx="4"/><text class="t" x="372" y="2874.5">3.深入开展教学科研</text></g>
<g id="l5-3a"><rect class="b" x="60" y="2807" width="287" height="48" rx="4"/><text class="t"><tspan x="65" y="2820.7">本学期我们高二生物备课组全体教师都将参与学校的高中少教</tspan><tspan x="65" dy="13.4">多学课题研究，并积极开展校教研课题的研究，计划每两周</tspan><tspan x="65" dy="13.4">开设一节公开课，每月开设一节课题观摩课.</tspan></text></g>
<g id="l5-3b"><rect class="b" x="60" y="2879" width="287" height="62" rx="4"/><text class="t"><tspan x="65" y="2894">备课组内教师要相互听课、评课，并对课堂教学进行课</tspan><tspan x="65" dy="13.4">后反思，及时把意见反馈给上课老师，及时了解自己</tspan><tspan x="65" dy="13.4">的教学效果，相互学习，促进教师的成长。另外鼓励每</tspan><tspan x="65" dy="13.4">位教师积极参加教研活动，每学期撰写论文等各项工作。</tspan></text></g>
<g id="l5-4"><rect class="b" x="283" y="2992" width="187" height="22" rx="4"/><text class="t" x="288" y="3007">4.组织学生参加04月1日的生物奥赛初赛</text></g>
<g id="l5-4a"><rect class="b" x="47" y="2965" width="217" height="76" rx="4"/><text class="t"><tspan x="52" y="2980">本学期将继续做好生物奥赛工作，组织好竞</tspan><tspan x="52" dy="13.4">赛辅导，把对生物有兴趣的学生组织起来，制</tspan><tspan x="52" dy="13.4">定好辅导计划，每周安排一到两节课的教</tspan><tspan x="52" dy="13.4">学，力争在今年的生物奥赛中取得好</tspan><tspan x="52" dy="13.4">成绩，并做好复赛的辅导工作。</tspan></text></g>
<g id="l5-5"><rect class="b" x="251" y="3066" width="218" height="48" rx="4"/><text class="t"><tspan x="256" y="3080.7">5.研究学业水平测试和高考的方向，组织高二</tspan><tspan x="256" dy="13.4">备课组出好期中、期末考试试卷和模块考试试</tspan><tspan x="256" dy="13.4">卷。</tspan></text></g>

<g id="watermarks">
<text class="wm" x="335" y="705" transform="rotate(-31 335 705)">树图 shutu.cn</text>
<text class="wm" x="1640" y="700" transform="rotate(-31 1640 700)">树图 shutu.cn</text>
<text class="wm" x="335" y="1715" transform="rotate(-31 335 1715)">树图 shutu.cn</text>
<text class="wm" x="1640" y="1700" transform="rotate(-31 1640 1700)">树图 shutu.cn</text>
<text class="wm" x="340" y="2700" transform="rotate(-31 340 2700)">树图 shutu.cn</text>
<text class="wm" x="1640" y="2690" transform="rotate(-31 1640 2690)">树图 shutu.cn</text>
<text class="wm" x="340" y="3690" transform="rotate(-31 340 3690)">树图 shutu.cn</text>
<text class="wm" x="1640" y="3690" transform="rotate(-31 1640 3690)">树图 shutu.cn</text>
</g>
</svg>
